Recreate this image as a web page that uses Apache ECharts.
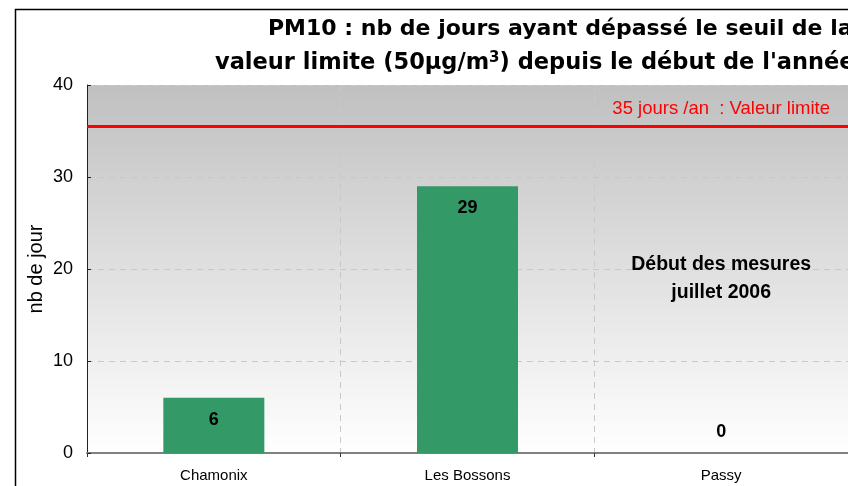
<!DOCTYPE html>
<html>
<head>
<meta charset="utf-8">
<script src="https://cdn.jsdelivr.net/npm/echarts@6/dist/echarts.min.js"></script>
<style>
html,body{margin:0;padding:0;background:#fff;}
#chart{width:848px;height:486px;}
</style>
</head>
<body>
<div id="chart"></div>
<script>
var categories = ['Chamonix', 'Les Bossons', 'Passy'];
var values = [6, 29, 0];
var limitValue = 35.5;
var limitLabel = '35 jours /an  : Valeur limite';
var yTicks = [0, 10, 20, 30, 40];
var noteText = 'Début des mesures\njuillet 2006';
var noteValue = 19;

var chart = echarts.init(document.getElementById('chart'), null, {renderer: 'canvas'});

var barData = values.map(function (v, i) {
  var item = {value: v};
  if (v === 0) {
    item.label = {position: 'top', distance: 12};
  }
  return item;
});

var option = {
  animation: false,
  backgroundColor: '#ffffff',
  title: [
    {
      text: 'PM10 : nb de jours ayant dépassé le seuil de la',
      left: 263, top: 13,
      textStyle: {fontFamily: 'DejaVu Sans', fontWeight: 'bold', fontSize: 22, color: '#000'}
    },
    {
      text: 'valeur limite (50µg/m{sup|3}) depuis le début de l\'année',
      left: 210, top: 46,
      textStyle: {
        fontFamily: 'DejaVu Sans', fontWeight: 'bold', fontSize: 22.5, color: '#000',
        rich: {
          sup: {fontFamily: 'DejaVu Sans', fontWeight: 'bold', fontSize: 15, color: '#000', verticalAlign: 'top', padding: [0, 0, 10, 0]}
        }
      }
    }
  ],
  graphic: [
    {
      type: 'rect', left: 13, top: 7, silent: true, z: 100,
      shape: {width: 900, height: 600},
      style: {fill: 'none', stroke: '#000', lineWidth: 1.5}
    }
  ],
  grid: {
    left: 87, right: 0, top: 85, bottom: 33,
    show: true,
    borderWidth: 0,
    backgroundColor: new echarts.graphic.LinearGradient(0, 0, 0, 1, [
      {offset: 0, color: '#c0c0c0'},
      {offset: 1, color: '#ffffff'}
    ])
  },
  xAxis: {
    type: 'category',
    data: categories,
    boundaryGap: true,
    axisLine: {show: true, lineStyle: {color: '#808080', width: 2}},
    axisTick: {show: true, alignWithLabel: false, length: 4, lineStyle: {color: '#333'}},
    axisLabel: {fontFamily: 'Liberation Sans', fontSize: 15, color: '#000', margin: 15},
    splitLine: {show: true, lineStyle: {color: '#c8c8c8', type: [6, 5], width: 1}}
  },
  yAxis: {
    type: 'value',
    min: yTicks[0], max: yTicks[yTicks.length - 1], interval: 10,
    name: 'nb de jour',
    nameLocation: 'middle',
    nameRotate: 90,
    nameGap: 41,
    nameMoveOverlap: false,
    nameTextStyle: {fontFamily: 'Liberation Sans', fontSize: 20, color: '#000'},
    axisLine: {show: true, lineStyle: {color: '#222', width: 1}},
    axisTick: {show: true, inside: true, length: 4, lineStyle: {color: '#222'}},
    axisLabel: {fontFamily: 'Liberation Sans', fontSize: 18, color: '#000', margin: 14},
    splitLine: {show: true, lineStyle: {color: '#c8c8c8', type: [6, 5], width: 1}}
  },
  series: [
    {
      type: 'bar',
      data: barData,
      barWidth: 101,
      itemStyle: {color: '#339966'},
      label: {
        show: true,
        position: 'insideTop',
        distance: 13,
        fontFamily: 'Liberation Sans',
        fontWeight: 'bold',
        fontSize: 18,
        color: '#000'
      },
      markLine: {
        silent: true,
        symbol: ['none', 'none'],
        data: [{yAxis: limitValue}],
        lineStyle: {color: '#ff0000', width: 3, type: 'solid'},
        label: {
          show: true,
          position: 'insideEndTop',
          formatter: limitLabel,
          fontFamily: 'Liberation Sans',
          fontSize: 18.5,
          color: '#ff0000',
          distance: [18, 8]
        }
      },
      markPoint: {
        silent: true,
        symbol: 'circle',
        symbolSize: 0,
        data: [{coord: ['Passy', noteValue]}],
        label: {
          show: true,
          position: 'inside',
          formatter: noteText,
          fontFamily: 'Liberation Sans',
          fontWeight: 'bold',
          fontSize: 19.5,
          lineHeight: 28,
          color: '#000',
          align: 'center'
        }
      }
    }
  ]
};

chart.setOption(option);
</script>
</body>
</html>
